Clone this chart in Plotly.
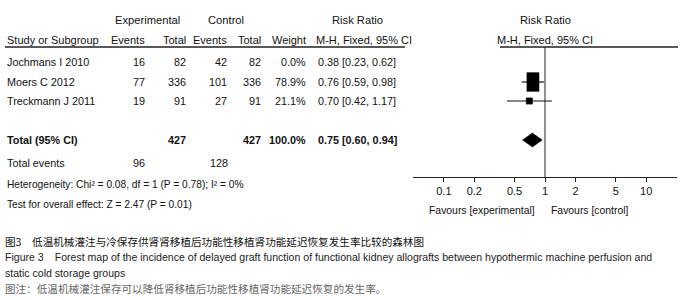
import math
import plotly.graph_objects as go

# ---------------- data ----------------
studies = ["Jochmans I 2010", "Moers C 2012", "Treckmann J 2011"]
exp_events = [16, 77, 19]
exp_total = [82, 336, 91]
ctrl_events = [42, 101, 27]
ctrl_total = [82, 336, 91]
weights = [0.0, 78.9, 21.1]
rr = [0.38, 0.76, 0.70]
rr_lo = [0.23, 0.59, 0.42]
rr_hi = [0.62, 0.98, 1.17]

total_exp = 427
total_ctrl = 427
total_weight = 100.0
total_rr, total_lo, total_hi = 0.75, 0.60, 0.94
events_exp_sum = 96
events_ctrl_sum = 128

tick_vals = [0.1, 0.2, 0.5, 1, 2, 5, 10]
tick_text = ["0.1", "0.2", "0.5", "1", "2", "5", "10"]

heterogeneity = "Heterogeneity: Chi² = 0.08, df = 1 (P = 0.78); I² = 0%"
overall = "Test for overall effect: Z = 2.47 (P = 0.01)"
caption_cn = "图3　低温机械灌注与冷保存供肾肾移植后功能性移植肾功能延迟恢复发生率比较的森林图"
caption_en1 = "Figure 3　Forest map of the incidence of delayed graft function of functional kidney allografts between hypothermic machine perfusion and"
caption_en2 = "static cold storage groups"
caption_note = "图注：低温机械灌注保存可以降低肾移植后功能性移植肾功能延迟恢复的发生率。"

# ---------------- layout constants ----------------
W, H = 681, 300
FONT = "Liberation Sans, Arial, sans-serif"
FS = 10.8
COL = "#111"
ax_left_px, ax_right_px = 413, 677
log_half = 1.305
px_per_dec = (ax_right_px - ax_left_px) / (2 * log_half)

row_h1, row_h2 = 20, 40
row_y = [62, 82, 101]
row_total, row_events, row_het, row_test = 140, 163, 184, 204
axis_y = 177
top_line_y = 47

fig = go.Figure()

def P(x):
    return x / W

ann = []
def txt(x, y, s, anchor="left", bold=False, size=FS, color=COL, family=FONT):
    ann.append(dict(x=P(x), y=y, xref="paper", yref="y", text=("<b>%s</b>" % s) if bold else s,
                    showarrow=False, xanchor=anchor, yanchor="middle",
                    font=dict(family=family, size=size, color=color)))

# headers
txt(147.5, row_h1, "Experimental", "center", size=11.2)
txt(226, row_h1, "Control", "center", size=11.2)
txt(357, row_h1, "Risk Ratio", "center", size=11.2)
txt(545, row_h1, "Risk Ratio", "center", size=11.2)
txt(5, row_h2, "Study or Subgroup", size=11)
txt(147, row_h2, "Events", "right", size=11)
txt(188, row_h2, "Total", "right", size=11)
txt(229, row_h2, "Events", "right", size=11)
txt(263, row_h2, "Total", "right", size=11)
txt(308, row_h2, "Weight", "right", size=11)
txt(314, row_h2, "M-H, Fixed, 95% CI", size=11)
txt(545, row_h2, "M-H, Fixed, 95% CI", "center", size=11)

for i, s in enumerate(studies):
    y = row_y[i]
    txt(5, y, s)
    txt(147, y, str(exp_events[i]), "right")
    txt(188, y, str(exp_total[i]), "right")
    txt(229, y, str(ctrl_events[i]), "right")
    txt(263, y, str(ctrl_total[i]), "right")
    txt(308, y, "%.1f%%" % weights[i], "right")
    txt(316, y, "%.2f [%.2f, %.2f]" % (rr[i], rr_lo[i], rr_hi[i]))

txt(5, row_total, "Total (95% CI)", bold=True)
txt(188, row_total, str(total_exp), "right", bold=True)
txt(263, row_total, str(total_ctrl), "right", bold=True)
txt(308, row_total, "%.1f%%" % total_weight, "right", bold=True)
txt(316, row_total, "%.2f [%.2f, %.2f]" % (total_rr, total_lo, total_hi), bold=True)

txt(5, row_events, "Total events")
txt(147, row_events, str(events_exp_sum), "right")
txt(230, row_events, str(events_ctrl_sum), "right")
txt(5, row_het, heterogeneity, size=10.2)
txt(5, row_test, overall, size=10.2)

txt(537, 210, "Favours [experimental]", "right", size=10.4)
txt(549, 210, "Favours [control]", "left", size=10.4)

CAP = "Liberation Sans, Arial, sans-serif"
CJK = "Noto Sans CJK SC, sans-serif"
txt(3, 241, caption_cn, size=10.6, color="#111", family=CJK)
txt(3, 257, caption_en1, size=10.55, color="#222", family=CAP)
txt(3, 273, caption_en2, size=10.55, color="#222", family=CAP)
txt(3, 288, caption_note, size=10.6, color="#666", family=CJK)

# header underline shapes
shapes = [
    dict(type="line", xref="paper", yref="y", x0=P(5), x1=P(405), y0=top_line_y, y1=top_line_y,
         line=dict(color="#222", width=1.3)),
    dict(type="line", xref="paper", yref="y", x0=P(500), x1=P(678), y0=top_line_y, y1=top_line_y,
         line=dict(color="#222", width=1.3)),
]

# vertical line of no effect
fig.add_trace(go.Scatter(x=[1, 1], y=[top_line_y, axis_y], mode="lines",
                         line=dict(color="#222", width=1), hoverinfo="skip", showlegend=False))

def shift(v, px):
    return v * 10 ** (px / px_per_dec)

# study CIs and boxes
for i in range(len(studies)):
    if weights[i] <= 0:
        continue
    y = row_y[i]
    fig.add_trace(go.Scatter(x=[rr_lo[i], rr_hi[i]], y=[y, y], mode="lines",
                             line=dict(color="#111", width=1.2), hoverinfo="skip", showlegend=False))
    hw = 0.68 * math.sqrt(weights[i])
    hh = hw * (1.55 if weights[i] > 50 else 1.0)
    xs = [shift(rr[i], -hw), shift(rr[i], hw), shift(rr[i], hw), shift(rr[i], -hw), shift(rr[i], -hw)]
    ys = [y - hh, y - hh, y + hh, y + hh, y - hh]
    fig.add_trace(go.Scatter(x=xs, y=ys, mode="lines", fill="toself", fillcolor="#000",
                             line=dict(color="#000", width=0.5), hoverinfo="skip", showlegend=False))

# overall diamond
fig.add_trace(go.Scatter(x=[total_lo, total_rr, total_hi, total_rr, total_lo],
                         y=[row_total, row_total - 7, row_total, row_total + 7, row_total],
                         mode="lines", fill="toself", fillcolor="#000",
                         line=dict(color="#000", width=0.5), hoverinfo="skip", showlegend=False))

fig.update_layout(
    width=W, height=H, margin=dict(l=0, r=0, t=0, b=0),
    paper_bgcolor="white", plot_bgcolor="rgba(0,0,0,0)",
    annotations=ann, shapes=shapes, showlegend=False,
    xaxis=dict(type="log", range=[-log_half, log_half],
               domain=[ax_left_px / W, ax_right_px / W],
               anchor="free", position=1 - axis_y / H,
               showline=True, linecolor="#222", linewidth=1,
               ticks="outside", ticklen=4, tickcolor="#222", tickwidth=1,
               tickvals=tick_vals, ticktext=tick_text,
               tickfont=dict(family=FONT, size=11, color=COL),
               showgrid=False, zeroline=False, fixedrange=True),
    yaxis=dict(range=[H, 0], domain=[0, 1], visible=False, showgrid=False,
               zeroline=False, fixedrange=True),
)

fig.write_html("out.html", config={"displayModeBar": False},
               post_script="document.body.style.margin='0';document.body.style.overflow='hidden';")
